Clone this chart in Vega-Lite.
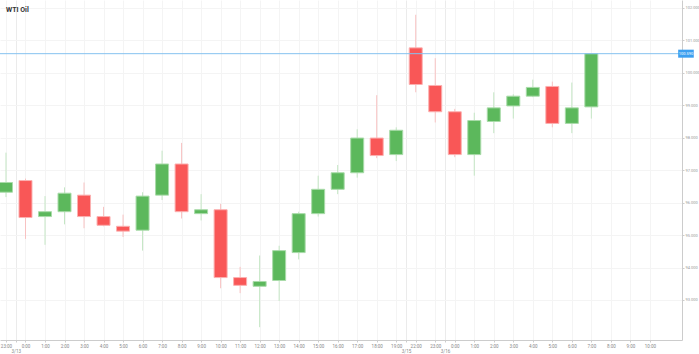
{
  "$schema": "https://vega.github.io/schema/vega-lite/v6.json",
  "width": 682,
  "height": 340,
  "autosize": {"type": "none"},
  "padding": {"left": 0, "top": 0, "right": 17, "bottom": 14},
  "background": "white",
  "title": {"text": "WTI Oil", "anchor": "start", "frame": "group", "offset": -13, "dx": 6, "fontSize": 7, "fontWeight": "bold", "color": "#333333", "font": "Roboto"},
  "config": {"view": {"stroke": null}, "font": "Roboto"},
  "datasets": {
    "candles": [
      {"i": 0, "open": 96.32, "high": 97.54, "low": 96.17, "close": 96.62},
      {"i": 1, "open": 96.68, "high": 96.74, "low": 94.88, "close": 95.54},
      {"i": 2, "open": 95.57, "high": 96.2, "low": 94.7, "close": 95.72},
      {"i": 3, "open": 95.72, "high": 96.47, "low": 95.33, "close": 96.29},
      {"i": 4, "open": 96.23, "high": 96.62, "low": 95.21, "close": 95.57},
      {"i": 5, "open": 95.57, "high": 95.87, "low": 95.27, "close": 95.3},
      {"i": 6, "open": 95.27, "high": 95.63, "low": 94.94, "close": 95.12},
      {"i": 7, "open": 95.15, "high": 96.32, "low": 94.52, "close": 96.2},
      {"i": 8, "open": 96.23, "high": 97.6, "low": 96.08, "close": 97.19},
      {"i": 9, "open": 97.19, "high": 97.84, "low": 95.51, "close": 95.72},
      {"i": 10, "open": 95.66, "high": 96.26, "low": 95.45, "close": 95.78},
      {"i": 11, "open": 95.78, "high": 95.96, "low": 93.36, "close": 93.69},
      {"i": 12, "open": 93.69, "high": 94.02, "low": 93.21, "close": 93.45},
      {"i": 13, "open": 93.42, "high": 94.37, "low": 92.16, "close": 93.57},
      {"i": 14, "open": 93.6, "high": 94.67, "low": 92.97, "close": 94.52},
      {"i": 15, "open": 94.46, "high": 95.72, "low": 94.25, "close": 95.66},
      {"i": 16, "open": 95.66, "high": 96.83, "low": 95.57, "close": 96.41},
      {"i": 17, "open": 96.41, "high": 97.16, "low": 96.26, "close": 96.92},
      {"i": 18, "open": 96.92, "high": 98.26, "low": 96.77, "close": 97.99},
      {"i": 19, "open": 97.99, "high": 99.31, "low": 97.37, "close": 97.45},
      {"i": 20, "open": 97.48, "high": 98.32, "low": 97.28, "close": 98.23},
      {"i": 21, "open": 100.77, "high": 101.79, "low": 99.4, "close": 99.64},
      {"i": 22, "open": 99.61, "high": 100.45, "low": 98.47, "close": 98.8},
      {"i": 23, "open": 98.8, "high": 98.89, "low": 97.4, "close": 97.48},
      {"i": 24, "open": 97.48, "high": 98.77, "low": 96.83, "close": 98.53},
      {"i": 25, "open": 98.5, "high": 99.4, "low": 98.14, "close": 98.92},
      {"i": 26, "open": 98.98, "high": 99.34, "low": 98.59, "close": 99.28},
      {"i": 27, "open": 99.28, "high": 99.79, "low": 99.25, "close": 99.55},
      {"i": 28, "open": 99.58, "high": 99.73, "low": 98.32, "close": 98.44},
      {"i": 29, "open": 98.44, "high": 99.7, "low": 98.14, "close": 98.92},
      {"i": 30, "open": 98.95, "high": 100.59, "low": 98.59, "close": 100.59}
    ],
    "price": [{"price": 100.59}]
  },
  "encoding": {
    "x": {
      "type": "quantitative",
      "scale": {"domain": [-0.05, 34.39], "nice": false, "zero": false},
      "axis": {
        "title": null,
        "values": [0,1,2,3,4,5,6,7,8,9,10,11,12,13,14,15,16,17,18,19,20,21,22,23,24,25,26,27,28,29,30,31,32,33,0.5,20.5,22.5],
        "labelExpr": "datum.value == 0.5 ? [' ', '3/13'] : datum.value == 20.5 ? [' ', '3/15'] : datum.value == 22.5 ? [' ', '3/16'] : ['23:00','0:00','1:00','2:00','3:00','4:00','5:00','6:00','7:00','8:00','9:00','10:00','11:00','12:00','13:00','14:00','15:00','16:00','17:00','18:00','19:00','22:00','23:00','0:00','1:00','2:00','3:00','4:00','5:00','6:00','7:00','8:00','9:00','10:00'][datum.value]",
        "labelFontSize": 4.5,
        "labelColor": "#888888",
        "labelOverlap": false,
        "labelBound": false,
        "labelFlush": false,
        "labelPadding": 1,
        "labelLineHeight": 5,
        "tickSize": 2,
        "tickColor": "#cccccc",
        "domainColor": "#cccccc",
        "gridColor": {"condition": {"test": "datum.value % 1 != 0", "value": "#ebebeb"}, "value": "#f4f4f4"}
      }
    },
    "y": {
      "type": "quantitative",
      "scale": {"domain": [91.92, 102.09], "nice": false, "zero": false},
      "axis": {
        "title": null,
        "orient": "right",
        "values": [93,94,95,96,97,98,99,100,101,102],
        "format": ".3f",
        "labelFontSize": 4,
        "labelColor": "#999999",
        "labelPadding": 1,
        "tickSize": 2,
        "tickColor": "#cccccc",
        "domainColor": "#cccccc",
        "gridColor": "#f4f4f4"
      }
    }
  },
  "layer": [
    {
      "data": {"name": "candles"},
      "mark": {"type": "rule", "clip": true, "strokeWidth": 1},
      "encoding": {
        "x": {"field": "i"},
        "y": {"field": "low"},
        "y2": {"field": "high"},
        "color": {"condition": {"test": "datum.close >= datum.open", "value": "#c4e6c4"}, "value": "#f8c2c2"}
      }
    },
    {
      "data": {"name": "candles"},
      "mark": {"type": "bar", "clip": true, "width": 13, "strokeWidth": 1},
      "encoding": {
        "x": {"field": "i"},
        "y": {"field": "open"},
        "y2": {"field": "close"},
        "fill": {"condition": {"test": "datum.close >= datum.open", "value": "#5cb85c"}, "value": "#f95757"},
        "stroke": {"condition": {"test": "datum.close >= datum.open", "value": "#a9dba9"}, "value": "#fbb0b0"}
      }
    },
    {
      "data": {"name": "price"},
      "mark": {"type": "rule", "clip": true, "color": "#86c2f0", "strokeWidth": 1},
      "encoding": {
        "y": {"field": "price"}
      }
    },
    {
      "data": {"name": "price"},
      "mark": {"type": "bar", "clip": false, "size": 8, "color": "#3d9ff0", "orient": "horizontal"},
      "encoding": {
        "x": {"datum": 34.45},
        "x2": {"datum": 35.25},
        "y": {"field": "price"}
      }
    },
    {
      "data": {"name": "price"},
      "mark": {"type": "text", "clip": false, "fontSize": 4, "color": "white", "align": "center", "baseline": "middle"},
      "encoding": {
        "x": {"datum": 34.85},
        "y": {"field": "price"},
        "text": {"field": "price", "format": ".3f"}
      }
    }
  ]
}
